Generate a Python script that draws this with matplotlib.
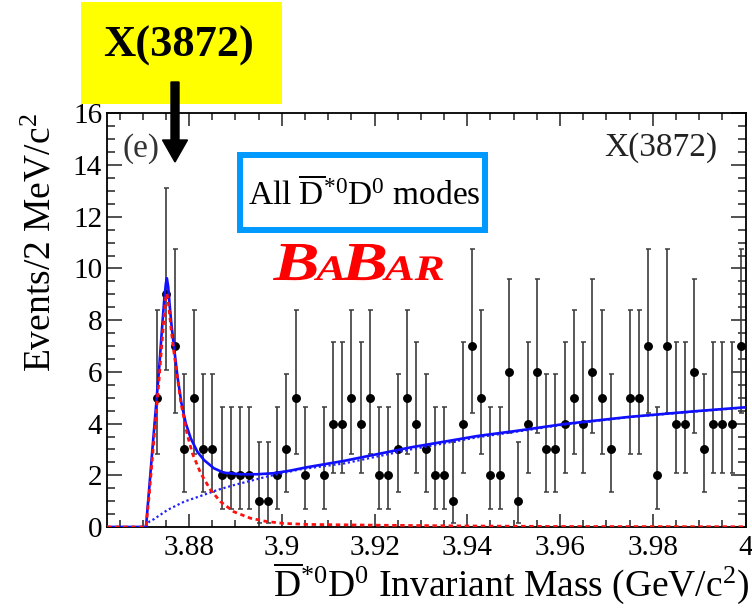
import math
import numpy as np
import matplotlib
matplotlib.use("Agg")
import matplotlib.pyplot as plt
from matplotlib.patches import Rectangle, FancyArrow, PathPatch
from matplotlib.transforms import IdentityTransform, Affine2D
from matplotlib.ticker import MultipleLocator, FuncFormatter
from matplotlib.textpath import TextPath
from matplotlib.font_manager import FontProperties

plt.rcParams["font.family"] = ["Liberation Serif", "DejaVu Serif"]
plt.rcParams["mathtext.fontset"] = "custom"
plt.rcParams["mathtext.rm"] = "Liberation Serif"
plt.rcParams["mathtext.it"] = "Liberation Serif:italic"
plt.rcParams["mathtext.bf"] = "Liberation Serif:bold"

W, H = 752, 614

# 2 MeV bins, centres in GeV/c^2
bin_lo, bin_w = 3.872, 0.002
counts = [5, 9, 7, 3, 5, 3, 3, 2, 2, 2, 2, 1, 1, 2, 3, 5,
          2, 0, 2, 4, 4, 5, 4, 5, 2, 2, 3, 5, 4, 3, 2, 2,
          1, 4, 7, 5, 2, 2, 6, 1, 4, 6, 3, 3, 4, 5, 4, 6,
          5, 3, 0, 5, 5, 7, 2, 7, 4, 4, 6, 3, 4, 4, 4, 7]

# fit projections: total, signal and background
total_x = [3.8623, 3.87071, 3.87143, 3.87214, 3.87286, 3.87357, 3.87414, 3.87464,
           3.87500, 3.87521, 3.87550, 3.87578, 3.87621, 3.87678, 3.87750, 3.87836,
           3.87929, 3.88036, 3.88179, 3.88322, 3.88536, 3.88750, 3.89108, 3.89465,
           3.89822, 3.90179, 3.90537, 3.9135, 3.9278, 3.9422, 3.9507, 3.9608,
           3.975, 3.9893, 4.0]
total_y = [0.0, 0.0, 1.56, 3.11, 4.65, 6.20, 7.62, 8.78,
           9.42, 9.62, 9.29, 8.65, 7.81, 6.91, 5.81, 4.78,
           4.01, 3.43, 2.91, 2.59, 2.27, 2.10, 2.04, 2.04,
           2.08, 2.18, 2.31, 2.56, 3.08, 3.52, 3.72, 3.98,
           4.26, 4.48, 4.63]

sig_x = [3.8623, 3.87071, 3.87143, 3.87214, 3.87286, 3.87357, 3.87414, 3.87464,
         3.8750, 3.8752, 3.8755, 3.8761, 3.8767, 3.8774, 3.8782, 3.8790,
         3.87964, 3.88071, 3.88250, 3.88464, 3.88679, 3.88965, 3.89322, 3.89679,
         3.90036, 3.90537, 3.92, 3.94, 3.96, 4.0]
sig_y = [0.0, 0.0, 1.30, 2.80, 4.30, 5.80, 7.10, 8.20,
         8.90, 9.03, 8.75, 7.70, 6.80, 5.90, 4.85, 4.10,
         3.55, 2.85, 2.08, 1.43, 0.98, 0.59, 0.34, 0.21,
         0.14, 0.10, 0.07, 0.04, 0.02, 0.01]

bkg_x = [3.8623, 3.87071, 3.87143, 3.87250, 3.87321, 3.87536, 3.87893, 3.88250,
         3.88607, 3.88965, 3.89679, 3.90394, 3.9135, 3.9278, 3.9422, 3.9507,
         3.9608, 3.975, 3.9893, 4.0]
bkg_y = [0.0, 0.0, 0.21, 0.31, 0.40, 0.66, 0.98, 1.20,
         1.43, 1.62, 1.95, 2.23, 2.46, 3.00, 3.47, 3.69,
         3.96, 4.25, 4.47, 4.62]


def poisson_cdf(k, mu):
    return sum(math.exp(-mu) * mu ** i / math.factorial(i) for i in range(k + 1))


def bisect_decreasing(f, target):
    lo, hi = 0.0, 60.0
    for _ in range(70):
        mid = 0.5 * (lo + hi)
        if f(mid) > target:
            lo = mid
        else:
            hi = mid
    return 0.5 * (lo + hi)


def garwood(n, cl=0.6827):
    a = 0.5 * (1.0 - cl)
    low = 0.0 if n == 0 else bisect_decreasing(lambda m: poisson_cdf(n - 1, m), 1.0 - a)
    high = bisect_decreasing(lambda m: poisson_cdf(n, m), a)
    return low, high


counts = np.array(counts)
mass = bin_lo + bin_w * (np.arange(len(counts)) + 0.5)
filled = counts > 0
lows, highs = zip(*[garwood(int(n)) for n in counts[filled]])
err_lo = counts[filled] - np.array(lows)
err_hi = np.array(highs) - counts[filled]

fig = plt.figure(figsize=(W / 100, H / 100), dpi=100)
ax = fig.add_axes([107 / W, 1 - 527 / H, (745.5 - 107) / W, (527 - 113.3) / H])


def fx(px):
    return px / W


def fy(py):
    return 1 - py / H


ax.errorbar(mass[filled], counts[filled], yerr=[err_lo, err_hi], fmt="o", ms=5.4,
            color="black", ecolor="#3c3c3c", elinewidth=1.2, capsize=1.8,
            capthick=1.1, zorder=2)
ax.plot(bkg_x, bkg_y, color="#2020ff", lw=1.6, ls=(0, (1, 1.2)), zorder=3)
ax.plot(sig_x, sig_y, color="#ff1010", lw=2.0, ls=(0, (1.6, 1.3)), zorder=4)
ax.plot(total_x, total_y, color="#1010ff", lw=1.9, zorder=3)

ax.set_xlim(3.8623, 4.0)
ax.set_ylim(0, 16)
ax.xaxis.set_major_locator(MultipleLocator(0.02))
ax.xaxis.set_minor_locator(MultipleLocator(0.005))
ax.yaxis.set_major_locator(MultipleLocator(2))
ax.yaxis.set_minor_locator(MultipleLocator(0.5))
ax.xaxis.set_major_formatter(FuncFormatter(lambda v, p: f"{v:g}"))
ax.tick_params(which="both", direction="in", top=True, right=True,
               labelsize=21, width=1.1, color="#222222")
ax.tick_params(axis="x", which="major", length=9.5, pad=5.5)
ax.tick_params(axis="x", which="minor", length=5)
ax.tick_params(axis="y", which="major", length=11, pad=3.5)
ax.tick_params(axis="y", which="minor", length=6)
for sp in ax.spines.values():
    sp.set_linewidth(1.3)

fig.text(fx(41), fy(113), "Events/2 MeV/c$^{2}$", rotation=90, ha="center",
         va="top", fontsize=27)
fig.text(fx(749), fy(596),
         r"$\overline{\mathrm{D}}^{*0}\mathrm{D}^{0}$ Invariant Mass (GeV/c$^{2}$)",
         ha="right", va="baseline", fontsize=27)

fig.text(fx(122), fy(157), "(e)", fontsize=24, color="#333333", va="baseline")
fig.text(fx(717), fy(156), "X(3872)", fontsize=24, color="#222222",
         ha="right", va="baseline")

# label banner with arrow pointing at the peak
fig.add_artist(Rectangle((fx(81), fy(104)), (282 - 81) / W, (104 - 2) / H,
                         transform=fig.transFigure, facecolor="#ffff00",
                         edgecolor="none", zorder=5))
fig.text(fx(179), fy(57), "X(3872)", ha="center", va="baseline", fontsize=32,
         fontweight="bold", zorder=6)
fig.add_artist(FancyArrow(175, H - 82, 0, -80, width=8, head_width=25,
                          head_length=22, length_includes_head=True,
                          color="black", transform=IdentityTransform(), zorder=6))

# decay-mode box
fig.add_artist(Rectangle((fx(239.7), fy(230.3)), (485.3 - 239.7) / W,
                         (230.3 - 154.7) / H, transform=fig.transFigure,
                         facecolor="white", edgecolor="#0099ff", lw=4.3, zorder=5))
fig.text(fx(364), fy(195), r"All $\overline{\mathrm{D}}^{*0}\mathrm{D}^{0}$ modes",
         ha="center", va="center", fontsize=24, zorder=6)

# experiment logo, drawn as glyph outlines so it can be widened a little
logo_font = FontProperties(family="Liberation Serif", weight="bold", style="italic")
stretch = 1.25
x0 = 273
for part, size in [("B", 55), ("A", 36), ("B", 55), ("AR", 36)]:
    path = TextPath((0, 0), part, size=size, prop=logo_font)
    ext = path.get_extents()
    tr = Affine2D().scale(stretch, 1.0).translate(x0 - ext.x0 * stretch, H - 280)
    fig.add_artist(PathPatch(tr.transform_path(path), facecolor="#ff0000",
                             edgecolor="none", transform=IdentityTransform(),
                             zorder=6))
    x0 += ext.width * stretch - 3

fig.savefig("out.png", dpi=100)
